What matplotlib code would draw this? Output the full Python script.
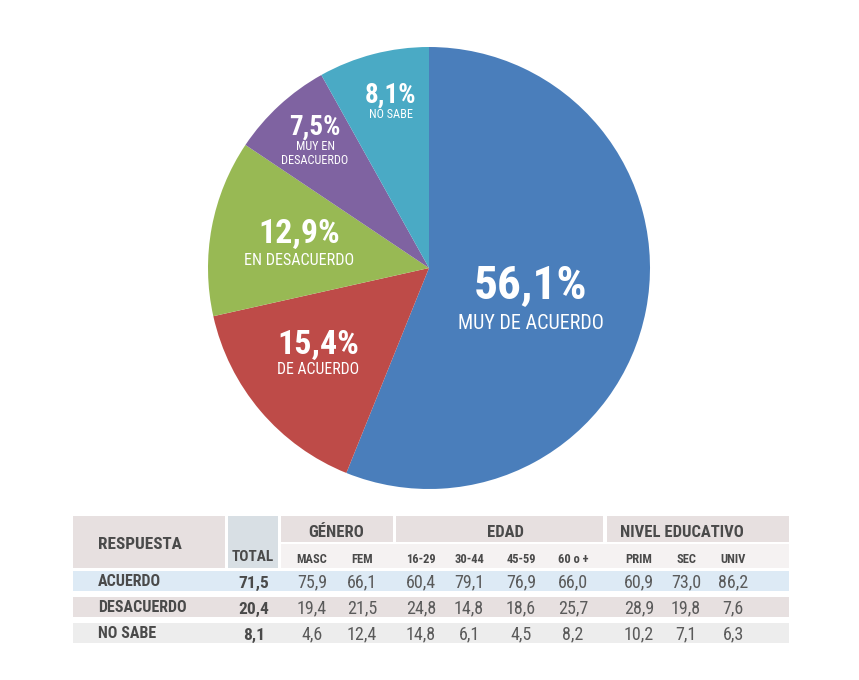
import matplotlib
matplotlib.use("Agg")
import matplotlib.pyplot as plt
from matplotlib.patches import Rectangle
from matplotlib import font_manager as fm

def _has_bold(name):
    ws = [f.weight for f in fm.fontManager.ttflist if f.name == name]
    ws = [w if isinstance(w, int) else 400 for w in ws]
    return any(w >= 600 for w in ws) and any(w <= 500 for w in ws)

_cands = ['Roboto Condensed', 'Archivo Narrow', 'PT Sans Narrow', 'Barlow Condensed',
          'Liberation Sans Narrow', 'Liberation Sans']
_pick = [c for c in _cands if _has_bold(c)][:1]
plt.rcParams['font.family'] = _pick + ['DejaVu Sans']

# ---- data ----
pie_labels = ["MUY DE ACUERDO", "DE ACUERDO", "EN DESACUERDO", "MUY EN\nDESACUERDO", "NO SABE"]
pie_values = [56.1, 15.4, 12.9, 7.5, 8.1]
pie_colors = ["#4a7ebb", "#be4b48", "#98b954", "#7f63a1", "#4aaac5"]

row_labels = ["ACUERDO", "DESACUERDO", "NO SABE"]
totals = [71.5, 20.4, 8.1]
groups = ["GÉNERO", "EDAD", "NIVEL EDUCATIVO"]
sub_labels = ["MASC", "FEM", "16-29", "30-44", "45-59", "60 o +", "PRIM", "SEC", "UNIV"]
acuerdo = [75.9, 66.1, 60.4, 79.1, 76.9, 66.0, 60.9, 73.0, 86.2]
desacuerdo = [19.4, 21.5, 24.8, 14.8, 18.6, 25.7, 28.9, 19.8, 7.6]
no_sabe = [4.6, 12.4, 14.8, 6.1, 4.5, 8.2, 10.2, 7.1, 6.3]
rows = [acuerdo, desacuerdo, no_sabe]

W, H = 859, 680
fig = plt.figure(figsize=(W / 100, H / 100), dpi=100)
ax = fig.add_axes([0, 0, 1, 1])

def Y(py):
    return H - py

def fmt(v):
    return f"{v:.1f}".replace(".", ",")

# ---- pie ----
cx, cy, R = 429, 268, 221
ax.pie(pie_values, colors=pie_colors, startangle=90, counterclock=False,
       center=(cx, Y(cy)), radius=R, frame=True,
       wedgeprops=dict(linewidth=0))

# label placement: x, baseline pct, baseline label, size pct, size label
label_pos = [
    (531, 298, 329, 34, 14.5),
    (318, 354, 374, 24.5, 11.3),
    (299, 243, 265, 24.5, 11.6),
    (315, 135, 150, 19.5, 8.8),
    (391, 103, 118, 19.5, 8.8),
]
for (x, yb1, yb2, s1, s2), v, lab in zip(label_pos, pie_values, pie_labels):
    ax.text(x, Y(yb1), fmt(v) + "%", color="white", fontsize=s1, fontweight="bold",
            ha="center", va="baseline")
    for i, ln in enumerate(lab.split("\n")):
        ax.text(x, Y(yb2 + i * 14), ln, color="white", fontsize=s2,
                ha="center", va="baseline")

# ---- table ----
txt = "#4a4a4a"
valc = "#5a5a5a"
def rect(x0, y0, x1, y1, c):
    ax.add_patch(Rectangle((x0, Y(y1)), x1 - x0, y1 - y0, facecolor=c, edgecolor="none"))

hdr = "#e7e0e0"
sub = "#f5f2f2"
rect(73, 516, 225, 568, hdr)
rect(228, 516, 278, 568, "#d8dfe4")
group_spans = [(281, 393), (396, 603), (607, 789)]
group_x = [336, 505, 682]
for (x0, x1), gx, g in zip(group_spans, group_x, groups):
    rect(x0, 516, x1, 542, hdr)
    ax.text(gx, Y(537), g, color=txt, fontsize=12, fontweight="bold",
            ha="center", va="baseline")
rect(281, 544, 789, 568, sub)

ax.text(98, Y(549), "RESPUESTA", color=txt, fontsize=12.3, fontweight="bold",
        ha="left", va="baseline")
ax.text(253, Y(561), "TOTAL", color=txt, fontsize=11, fontweight="bold",
        ha="center", va="baseline")

col_x = [312, 362, 421, 469, 521, 573, 639, 686, 733]
for x, s in zip(col_x, sub_labels):
    ax.text(x, Y(563), s, color=txt, fontsize=9, fontweight="bold",
            ha="center", va="baseline")

row_spans = [(571, 591, "#ddeaf5"), (597, 617, "#e7e0e0"), (623, 643, "#ededed")]
for (y0, y1, c), lab, tot, vals in zip(row_spans, row_labels, totals, rows):
    rect(73, y0, 789, y1, c)
    yb = y1 - 3.5
    ax.text(98, Y(yb - 1), lab, color=txt, fontsize=11.5, fontweight="bold",
            ha="left", va="baseline")
    ax.text(254, Y(yb), fmt(tot), color=txt, fontsize=12.5, fontweight="bold",
            ha="center", va="baseline")
    for x, v in zip(col_x, vals):
        ax.text(x, Y(yb), fmt(v), color=valc, fontsize=13,
                ha="center", va="baseline")

ax.set_xlim(0, W)
ax.set_ylim(0, H)
ax.set_aspect("auto")
ax.axis("off")
fig.savefig("out.png", dpi=100)
